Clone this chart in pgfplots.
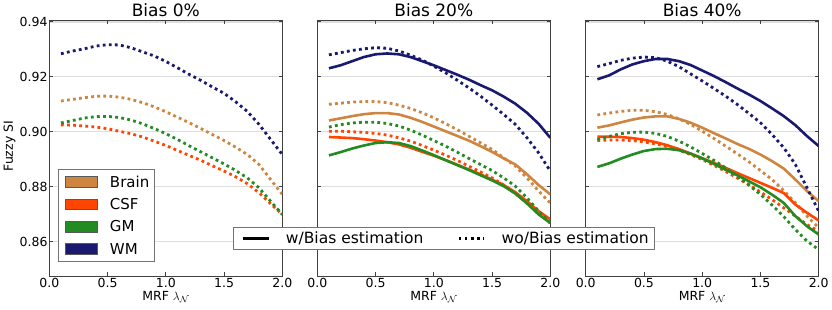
\documentclass[border=0pt]{standalone}
\usepackage{pgfplots}
\pgfplotsset{compat=1.18}
\usepackage{pgfplotstable}
\usepackage{fontspec}
\setmainfont{DejaVu Sans}
\definecolor{brain}{HTML}{CD853F}
\definecolor{csf}{HTML}{FF4500}
\definecolor{gm}{HTML}{228B22}
\definecolor{wm}{HTML}{191970}

\pgfplotstableread{
x brainD csfD gmD wmD
0.1 0.9112 0.9025 0.9032 0.9284
0.2 0.9118 0.9024 0.9041 0.9294
0.3 0.9124 0.9021 0.9050 0.9302
0.4 0.9129 0.9017 0.9055 0.9312
0.5 0.9130 0.9011 0.9056 0.9317
0.6 0.9126 0.9002 0.9052 0.9316
0.7 0.9118 0.8993 0.9043 0.9306
0.8 0.9106 0.8981 0.9029 0.9291
0.9 0.9091 0.8966 0.9012 0.9276
1.0 0.9073 0.8950 0.8993 0.9256
1.1 0.9053 0.8932 0.8972 0.9233
1.2 0.9033 0.8914 0.8949 0.9209
1.3 0.9012 0.8896 0.8927 0.9187
1.4 0.8990 0.8876 0.8905 0.9163
1.5 0.8968 0.8857 0.8883 0.9140
1.6 0.8944 0.8836 0.8859 0.9109
1.7 0.8917 0.8811 0.8832 0.9074
1.8 0.8881 0.8778 0.8796 0.9027
1.9 0.8826 0.8738 0.8747 0.8972
2.0 0.8772 0.8699 0.8699 0.8917
}\biasA

\pgfplotstableread{
x brainS brainD csfS csfD gmS gmD wmS wmD
0.1 0.9041 0.9100 0.8981 0.9002 0.8914 0.9017 0.9231 0.9280
0.2 0.9049 0.9104 0.8979 0.9002 0.8926 0.9026 0.9242 0.9288
0.3 0.9057 0.9108 0.8977 0.9000 0.8939 0.9032 0.9257 0.9296
0.4 0.9064 0.9110 0.8973 0.8998 0.8950 0.9035 0.9272 0.9302
0.5 0.9068 0.9110 0.8968 0.8994 0.8959 0.9035 0.9282 0.9306
0.6 0.9068 0.9106 0.8962 0.8988 0.8962 0.9030 0.9285 0.9304
0.7 0.9063 0.9097 0.8954 0.8978 0.8959 0.9021 0.9282 0.9294
0.8 0.9051 0.9085 0.8942 0.8966 0.8948 0.9006 0.9272 0.9279
0.9 0.9036 0.9069 0.8927 0.8950 0.8932 0.8988 0.9257 0.9261
1.0 0.9019 0.9051 0.8913 0.8933 0.8915 0.8968 0.9242 0.9239
1.1 0.9002 0.9030 0.8897 0.8915 0.8897 0.8948 0.9225 0.9215
1.2 0.8985 0.9008 0.8880 0.8896 0.8879 0.8926 0.9208 0.9188
1.3 0.8968 0.8984 0.8863 0.8875 0.8861 0.8903 0.9190 0.9160
1.4 0.8948 0.8960 0.8845 0.8854 0.8842 0.8881 0.9170 0.9130
1.5 0.8927 0.8936 0.8826 0.8832 0.8823 0.8859 0.9151 0.9097
1.6 0.8903 0.8905 0.8806 0.8806 0.8802 0.8832 0.9128 0.9063
1.7 0.8881 0.8875 0.8780 0.8775 0.8775 0.8802 0.9102 0.9027
1.8 0.8845 0.8832 0.8747 0.8741 0.8739 0.8759 0.9069 0.8978
1.9 0.8806 0.8784 0.8711 0.8705 0.8699 0.8711 0.9029 0.8923
2.0 0.8772 0.8741 0.8681 0.8668 0.8668 0.8668 0.8978 0.8857
}\biasB

\pgfplotstableread{
x brainS brainD csfS csfD gmS gmD wmS wmD
0.1 0.9015 0.9061 0.8982 0.8968 0.8872 0.8972 0.9191 0.9237
0.2 0.9023 0.9068 0.8982 0.8970 0.8885 0.8983 0.9205 0.9248
0.3 0.9034 0.9074 0.8981 0.8970 0.8902 0.8993 0.9227 0.9260
0.4 0.9044 0.9078 0.8977 0.8968 0.8917 0.8998 0.9245 0.9268
0.5 0.9052 0.9078 0.8971 0.8963 0.8930 0.8999 0.9257 0.9272
0.6 0.9056 0.9073 0.8962 0.8956 0.8937 0.8994 0.9265 0.9270
0.7 0.9056 0.9063 0.8951 0.8946 0.8938 0.8983 0.9265 0.9257
0.8 0.9047 0.9047 0.8937 0.8933 0.8933 0.8966 0.9257 0.9237
0.9 0.9033 0.9027 0.8921 0.8917 0.8920 0.8945 0.9243 0.9211
1.0 0.9015 0.9002 0.8904 0.8899 0.8903 0.8921 0.9223 0.9185
1.1 0.8995 0.8976 0.8887 0.8878 0.8883 0.8896 0.9203 0.9158
1.2 0.8976 0.8948 0.8869 0.8856 0.8862 0.8869 0.9181 0.9130
1.3 0.8956 0.8920 0.8850 0.8832 0.8842 0.8839 0.9158 0.9100
1.4 0.8938 0.8891 0.8832 0.8808 0.8820 0.8806 0.9136 0.9067
1.5 0.8917 0.8859 0.8814 0.8781 0.8798 0.8772 0.9112 0.9033
1.6 0.8893 0.8826 0.8796 0.8753 0.8771 0.8733 0.9085 0.8990
1.7 0.8866 0.8786 0.8777 0.8723 0.8741 0.8691 0.9057 0.8942
1.8 0.8826 0.8741 0.8735 0.8693 0.8693 0.8644 0.9024 0.8881
1.9 0.8784 0.8693 0.8705 0.8662 0.8656 0.8602 0.8984 0.8796
2.0 0.8747 0.8650 0.8677 0.8638 0.8626 0.8571 0.8948 0.8711
}\biasC

\pgfplotsset{
  panel/.style={
    anchor=south west, scale only axis, width=233pt, height=255.5pt,
    xmin=0, xmax=2, ymin=0.8475, ymax=0.9405,
    xtick={0,0.5,1,1.5,2}, ytick={0.86,0.88,0.90,0.92,0.94},
    scaled ticks=false,
    tick align=inside, major tick length=3.5pt,
    tick style={black!75, line width=0.8pt},
    axis line style={black!75, line width=0.9pt},
    ymajorgrids, grid style={black!13, line width=1.3pt},
    /pgf/number format/assume math mode=true,
    ticklabel style={font=\fontsize{12.5}{15}\selectfont},
    xticklabel style={inner sep=0pt, yshift=-2.3pt,
      /pgf/number format/fixed, /pgf/number format/fixed zerofill,
      /pgf/number format/precision=1},
    yticklabel style={inner sep=0pt, xshift=-1.6pt,
      /pgf/number format/fixed, /pgf/number format/fixed zerofill,
      /pgf/number format/precision=2},
    every axis title/.style={at={(axis description cs:0.5,1)}, anchor=base,
      yshift=3.8pt, font=\fontsize{17}{20}\selectfont},
    every axis x label/.style={at={(axis description cs:0.5,0)}, anchor=base,
      yshift=-24.7pt, font=\fontsize{12.5}{15}\selectfont},
    every axis y label/.style={at={(axis description cs:-0.1708,0.508)},
      anchor=center, rotate=90, font=\fontsize{12.5}{15}\selectfont},
    xlabel={MRF $\lambda_{\mathcal{N}}$},
  },
  sline/.style={line width=2.6pt, line join=round, forget plot},
  dline/.style={line width=2.8pt, dash pattern=on 2.8pt off 3.3pt, forget plot},
  patchimg/.style={legend image code/.code={%
      \path[draw=none, fill=none] (0pt,-5.3pt) rectangle (33.7pt,5.3pt);
      \path[fill=#1, draw=black!65, line width=0.5pt] (2pt,-5.3pt) rectangle (33.7pt,5.3pt);}},
}

\begin{document}
\begin{tikzpicture}
\useasboundingbox (0pt,0pt) rectangle (832pt,310pt);

% ---------- Panel 1 ----------
\begin{axis}[panel, at={(49.3pt,34pt)}, title={Bias 0\%}, ylabel={Fuzzy SI},
  legend cell align=left,
  legend style={at={(axis description cs:0.0386,0.42)}, anchor=north west,
    draw=black!55, line width=0.9pt, fill=white,
    inner xsep=4.7pt, inner ysep=3.35pt, row sep=4pt, column sep=12.6pt,
    font=\fontsize{15}{18}\selectfont,
    nodes={inner sep=0pt, text height=14.65pt, text depth=3.75pt}}]
\addlegendimage{patchimg=brain}\addlegendentry{Brain}
\addlegendimage{patchimg=csf}\addlegendentry{CSF}
\addlegendimage{patchimg=gm}\addlegendentry{GM}
\addlegendimage{patchimg=wm}\addlegendentry{WM}
\addplot[brain, dline] table[x=x, y=brainD] {\biasA};
\addplot[csf, dline] table[x=x, y=csfD] {\biasA};
\addplot[gm, dline] table[x=x, y=gmD] {\biasA};
\addplot[wm, dline] table[x=x, y=wmD] {\biasA};
\end{axis}

% ---------- Panel 2 ----------
\begin{axis}[panel, at={(317.3pt,34pt)}, title={Bias 20\%}, yticklabels={}]
\addplot[brain, sline] table[x=x, y=brainS] {\biasB};
\addplot[brain, dline] table[x=x, y=brainD] {\biasB};
\addplot[csf, sline] table[x=x, y=csfS] {\biasB};
\addplot[csf, dline] table[x=x, y=csfD] {\biasB};
\addplot[gm, sline] table[x=x, y=gmS] {\biasB};
\addplot[gm, dline] table[x=x, y=gmD] {\biasB};
\addplot[wm, sline] table[x=x, y=wmS] {\biasB};
\addplot[wm, dline] table[x=x, y=wmD] {\biasB};
\end{axis}

% ---------- Panel 3 ----------
\begin{axis}[panel, at={(585.7pt,34pt)}, title={Bias 40\%}, yticklabels={},
  legend columns=2,
  legend style={at={(axis description cs:-0.6082,0.1474)}, anchor=center,
    draw=black!55, line width=0.9pt, fill=white,
    inner xsep=5.6pt, inner ysep=3pt, column sep=0pt,
    /tikz/every odd column/.append style={column sep=16pt},
    /tikz/every even column/.append style={column sep=31.3pt},
    font=\fontsize{15.5}{18}\selectfont,
    nodes={inner sep=0pt, text height=14pt, text depth=2.7pt}}]
\addlegendimage{legend image code/.code={%
   \path[draw=none, fill=none] (0pt,-1pt) rectangle (29.4pt,1pt);
   \path[draw=black, line width=2.6pt] (3.7pt,0pt) -- (29.4pt,0pt);}}
\addlegendentry{w/Bias estimation}
\addlegendimage{legend image code/.code={%
   \path[draw=none, fill=none] (0pt,-1pt) rectangle (29.4pt,1pt);
   \path[draw=black, line width=2.8pt, dash pattern=on 2.8pt off 3.3pt] (3.7pt,0pt) -- (29.4pt,0pt);}}
\addlegendentry{wo/Bias estimation}
\addplot[brain, sline] table[x=x, y=brainS] {\biasC};
\addplot[brain, dline] table[x=x, y=brainD] {\biasC};
\addplot[csf, sline] table[x=x, y=csfS] {\biasC};
\addplot[csf, dline] table[x=x, y=csfD] {\biasC};
\addplot[gm, sline] table[x=x, y=gmS] {\biasC};
\addplot[gm, dline] table[x=x, y=gmD] {\biasC};
\addplot[wm, sline] table[x=x, y=wmS] {\biasC};
\addplot[wm, dline] table[x=x, y=wmD] {\biasC};
\end{axis}
\end{tikzpicture}
\end{document}
